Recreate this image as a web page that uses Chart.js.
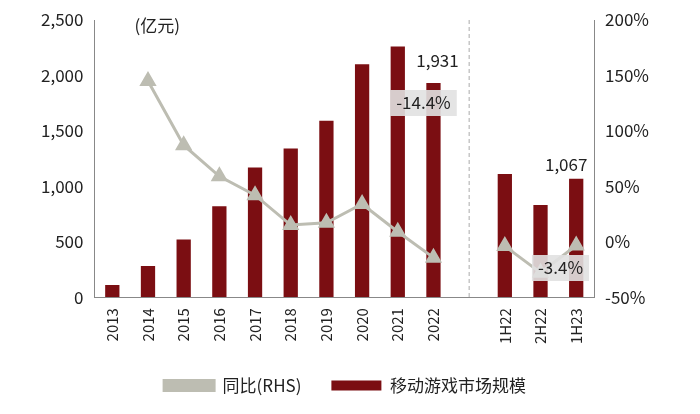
<!DOCTYPE html>
<html>
<head>
<meta charset="utf-8">
<script src="https://cdn.jsdelivr.net/npm/chart.js@4"></script>
<style>
  body { margin: 0; background: #fff; }
  #wrap { width: 700px; height: 414px; }
</style>
</head>
<body>
<div id="wrap"><canvas id="c"></canvas></div>
<script>
// categories (empty slot = gap between years and half-years)
const labels = ["2013","2014","2015","2016","2017","2018","2019","2020","2021","2022","","1H22","2H22","1H23"];
// market size, 亿元
const marketSize = [110, 280, 520, 820, 1170, 1340, 1590, 2100, 2260, 1931, null, 1110, 830, 1067];
// YoY growth, %
const yoy = [null, 145, 87, 59, 42, 15, 17, 34, 9, -14.4, null, -4, -28, -3.4];

const fontFam = "'Noto Sans CJK SC', Arial, sans-serif";

// dashed separator + value labels
const extras = {
  id: 'extras',
  afterDatasetsDraw(chart) {
    const ctx = chart.ctx;
    const x = chart.scales.x, yL = chart.scales.y;
    const area = chart.chartArea;
    ctx.save();
    ctx.strokeStyle = '#aaa';
    ctx.setLineDash([4, 3]);
    ctx.lineWidth = 1;
    const gx = x.getPixelForValue(10);
    ctx.beginPath(); ctx.moveTo(gx, area.top); ctx.lineTo(gx, area.bottom); ctx.stroke();
    ctx.setLineDash([]);
    ctx.font = '17px ' + fontFam;
    ctx.fillStyle = '#222';
    ctx.textAlign = 'center';
    ctx.textBaseline = 'bottom';
    ctx.fillText('1,931', x.getPixelForValue(9) + 4, yL.getPixelForValue(1931) - 14);
    ctx.fillText('1,067', x.getPixelForValue(13) - 10, yL.getPixelForValue(1067) - 6);
    ctx.textAlign = 'left';
    ctx.fillText('(亿元)', area.left + 40, area.top + 14);
    function box(text, cx, cy) {
      const w = ctx.measureText(text).width + 12;
      ctx.fillStyle = 'rgba(225,225,225,0.9)';
      ctx.fillRect(cx - w / 2, cy - 13, w, 26);
      ctx.fillStyle = '#222';
      ctx.textAlign = 'center';
      ctx.textBaseline = 'middle';
      ctx.fillText(text, cx, cy);
    }
    box('-14.4%', x.getPixelForValue(9) - 10, 103);
    box('-3.4%', x.getPixelForValue(12) + 20, 268);
    ctx.restore();
  }
};

new Chart(document.getElementById('c'), {
  data: {
    labels: labels,
    datasets: [
      {
        type: 'bar',
        label: '移动游戏市场规模',
        data: marketSize,
        yAxisID: 'y',
        backgroundColor: '#7B0E12',
        barPercentage: 0.4,
        categoryPercentage: 1,
        order: 1
      },
      {
        type: 'line',
        label: '同比(RHS)',
        data: yoy,
        yAxisID: 'y1',
        borderColor: '#BDBDB2',
        backgroundColor: '#BDBDB2',
        borderWidth: 3,
        pointStyle: 'triangle',
        pointRadius: 7,
        spanGaps: false,
        order: 0
      }
    ]
  },
  options: {
    responsive: true,
    maintainAspectRatio: false,
    animation: false,
    layout: { padding: { left: 38, right: 48, top: 20, bottom: 10 } },
    plugins: {
      legend: {
        position: 'bottom',
        labels: {
          font: { family: fontFam, size: 17 },
          color: '#222',
          boxWidth: 50,
          boxHeight: 10,
          padding: 30
        }
      },
      tooltip: { enabled: false }
    },
    scales: {
      x: {
        grid: { display: false },
        border: { color: '#888' },
        ticks: { font: { family: fontFam, size: 15 }, color: '#222', maxRotation: 90, minRotation: 90 }
      },
      y: {
        position: 'left',
        min: 0, max: 2500,
        grid: { display: false },
        border: { color: '#888' },
        ticks: { stepSize: 500, font: { family: fontFam, size: 17 }, color: '#222',
          callback: v => v.toLocaleString('en-US') }
      },
      y1: {
        position: 'right',
        min: -50, max: 200,
        grid: { display: false },
        border: { color: '#888' },
        ticks: { stepSize: 50, font: { family: fontFam, size: 17 }, color: '#222',
          callback: v => v + '%' }
      }
    }
  },
  plugins: [extras]
});
</script>
</body>
</html>
